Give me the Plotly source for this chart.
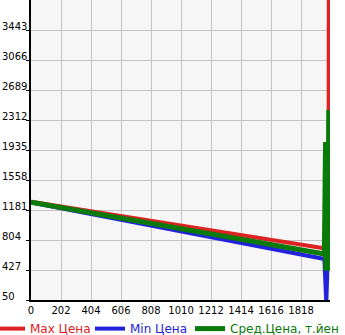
import plotly.graph_objects as go

# data
max_x = [0, 1975, 2003, 2005]
max_y = [1285, 690, 690, 3900]
min_x = [0, 1975, 1988, 2008]
min_y = [1275, 565, 20, 1150]
avg_x = [0, 1975, 1983, 1984, 1998, 2005]
avg_y = [1280, 628, 2036, 450, 450, 2438]
y_ticks = [50, 427, 804, 1181, 1558, 1935, 2312, 2689, 3066, 3443]
x_ticks = [0, 202, 404, 606, 808, 1010, 1212, 1414, 1616, 1818]

fig = go.Figure()
fig.add_trace(go.Scatter(x=max_x, y=max_y, mode="lines",
                         line=dict(color="#dd2222", width=4), legend="legend",
                         name='<span style="color:#dd2222">Max Цена</span>'))
fig.add_trace(go.Scatter(x=min_x, y=min_y, mode="lines",
                         line=dict(color="#2222dd", width=4), legend="legend2",
                         name='<span style="color:#2222dd">Min Цена</span>'))
fig.add_trace(go.Scatter(x=avg_x, y=avg_y, mode="lines",
                         line=dict(color="#0a7a0a", width=5), legend="legend3",
                         name='<span style="color:#0a7a0a">Сред.Цена, т.йен</span>'))

annotations = []
for v in y_ticks:
    annotations.append(dict(x=-31/299, xref="paper", y=v, yref="y",
                            text=str(v), showarrow=False, xanchor="left",
                            yanchor="bottom", yshift=-4,
                            font=dict(size=10, color="#000", family="DejaVu Sans")))

def leg(px):
    return dict(orientation="h", x=(px - 31) / 299, xanchor="left", y=-0.047, yanchor="top",
                font=dict(size=12), itemwidth=30, bgcolor="rgba(0,0,0,0)")

fig.update_layout(
    width=345, height=335,
    margin=dict(l=31, r=15, t=0, b=35, autoexpand=False),
    paper_bgcolor="white", plot_bgcolor="#f6f6f6",
    font=dict(family="DejaVu Sans", size=10, color="#000"),
    showlegend=True,
    legend=leg(-10), legend2=leg(90), legend3=leg(190),
    annotations=annotations,
)
fig.update_xaxes(range=[0, 2013], tickvals=x_ticks, ticktext=[str(v) for v in x_ticks],
                 showgrid=True, gridcolor="#c4c4c4", gridwidth=1,
                 showline=True, linecolor="#000", linewidth=2,
                 ticks="", zeroline=False, tickfont=dict(size=10))
fig.update_yaxes(range=[50, 3820], tickvals=y_ticks, showticklabels=False,
                 showgrid=True, gridcolor="#c4c4c4", gridwidth=1,
                 showline=True, linecolor="#000", linewidth=2,
                 ticks="outside", ticklen=3, tickcolor="#000", zeroline=False)

fig.write_html("out.html")
